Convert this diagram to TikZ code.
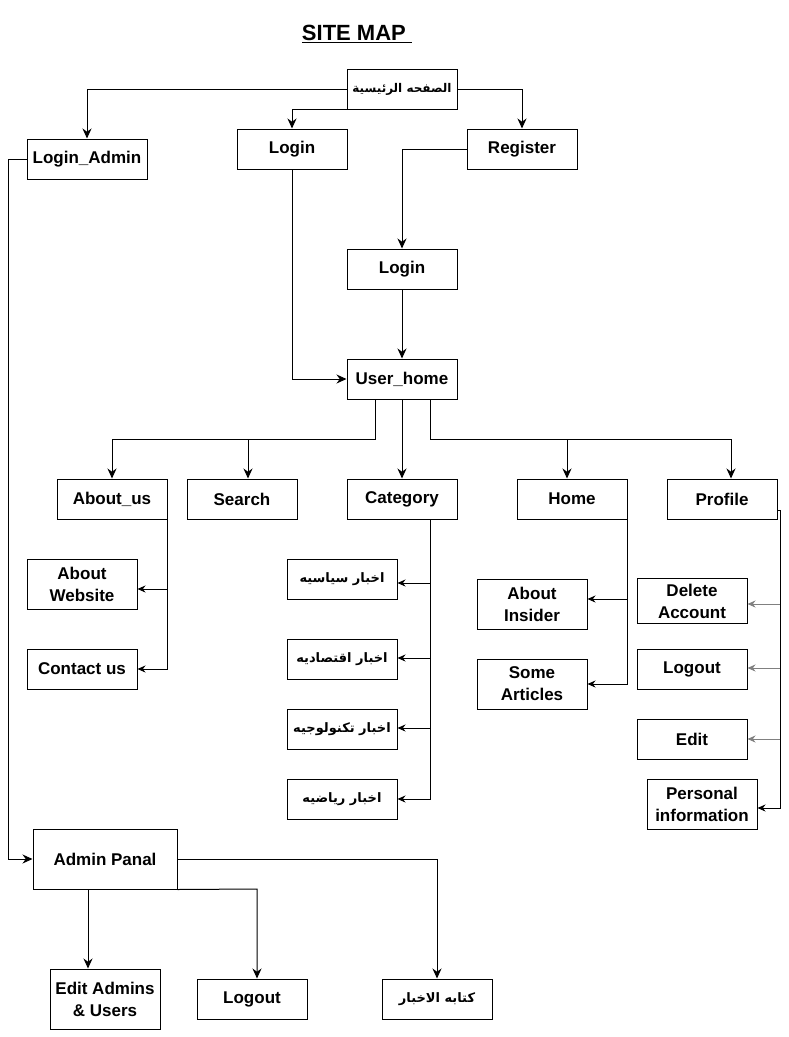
\documentclass[tikz,border=0pt]{standalone}
\usepackage{fontspec}
\setmainfont{Liberation Sans}
\newfontfamily\arabicfont[Script=Arabic]{DejaVu Sans}
\TeXXeTstate=1
\usetikzlibrary{arrows.meta}
\tikzset{
  bx/.style={draw, line width=1pt, minimum width=110, minimum height=40,
    inner sep=1pt, align=center, font=\fontsize{17}{22}\selectfont\bfseries},
  ar/.style={font=\fontsize{13}{16}\selectfont\arabicfont\bfseries},
  ln/.style={line width=1pt},
  arr/.style={ln, -{Stealth[length=10pt,width=9pt]}},
  sarr/.style={ln, -{Stealth[length=8pt,width=7pt]}}
}
\begin{document}
\begin{tikzpicture}[x=1pt,y=-1pt]
\useasboundingbox (0,0) rectangle (789,1037);
\node (tt) at (357,34) {\fontsize{22}{26}\selectfont\bfseries\underline{SITE MAP~}};

\node[bx] (hm) at (402,89) {\arabicfont\fontsize{12}{16}\selectfont\beginR الصفحه الرئيسية\endR};
\node[bx, minimum width=120] (la) at (87,159) {Login\_Admin};
\node[bx] (li) at (292,149) {Login};
\node[bx] (rg) at (522,149) {Register};
\node[bx] (lo) at (402,269) {Login};
\node[bx] (uh) at (402,379) {User\_home};

\node[bx] (ab) at (112,499) {About\_us};
\node[bx] (se) at (242,499) {Search};
\node[bx] (ca) at (402,499) {Category};
\node[bx] (ho) at (572,499) {Home};
\node[bx] (pr) at (722,499) {Profile};

\node[bx, minimum height=50] (aw) at (82,584) {About\\Website};
\node[bx] (cu) at (82,669) {Contact us};

\node[bx, ar] (c1) at (342,579) {\beginR اخبار سياسيه\endR};
\node[bx, ar] (c2) at (342,659) {\beginR اخبار اقتصاديه\endR};
\node[bx, ar] (c3) at (342,729) {\beginR اخبار تكنولوجيه\endR};
\node[bx, ar] (c4) at (342,799) {\beginR اخبار رياضيه\endR};

\node[bx, minimum height=50] (ai) at (532,604) {About\\Insider};
\node[bx, minimum height=50] (sa) at (532,684) {Some\\Articles};

\node[bx, minimum height=45] (da) at (692,601) {Delete\\Account};
\node[bx] (pl) at (692,669) {Logout};
\node[bx] (ed) at (692,739) {Edit};
\node[bx, minimum height=50] (pi) at (702,804) {Personal\\information};

\node[bx, minimum width=144, minimum height=60] (ap) at (105,859) {Admin Panal};
\node[bx, minimum height=60] (ea) at (105,999) {Edit Admins\\\& Users};
\node[bx] (al) at (252,999) {Logout};
\node[bx, ar] (kt) at (437,999) {\beginR كتابه الاخبار\endR};

\draw[arr] (hm.west) -| (la.north);
\draw[arr] (hm.south west) -| (li.north);
\draw[arr] (hm.east) -| (rg.north);
\draw[arr] (rg.west) -| (lo.north);
\draw[arr] (lo) -- (uh);
\draw[arr] (li.south) |- (uh.west);

\coordinate (ua) at (375,439);
\coordinate (ub) at (430,439);
\coordinate (us) at (248,439);
\coordinate (uo) at (567,439);
\coordinate (up) at (731,439);
\draw[arr] (uh.south -| ua) -- (ua) -| (ab.north);
\draw[arr] (us) -- (us |- se.north);
\draw[arr] (uh) -- (ca);
\draw[arr] (uh.south -| ub) -- (ub) -- (up) -- (up |- pr.north);
\draw[arr] (uo) -- (uo |- ho.north);

\coordinate (at) at (167,519);
\draw[sarr] (at) |- (cu.east);
\draw[sarr] (at |- 0,589) -- (aw.east |- 0,589);

\coordinate (ct) at (430,519);
\draw[sarr] (ct) |- (c4.east);
\foreach \n/\y in {c1/583,c2/658,c3/728}
  \draw[sarr] (ct |- 0,\y) -- (\n.east |- 0,\y);

\draw[sarr] (ho.south east) |- (sa.east);
\draw[sarr] (ho.south east |- 0,599) -- (ai.east |- 0,599);

\coordinate (pt) at (780,510);
\draw[sarr] (pr.east |- pt) -- (pt) |- (pi.east |- 0,808);
\foreach \n/\y in {da/604,pl/668,ed/739}
  \draw[sarr, gray] (pt |- 0,\y) -- (\n.east |- 0,\y);

\coordinate (lw) at (8,159);
\draw[arr] (la.west) -- (lw) |- (ap.west);
\coordinate (ae) at (88,889);
\coordinate (ag) at (257,889);
\draw[arr] (ae) -- (ae |- ea.north);
\draw[arr] (ap.south east) -- (ag) -- (ag |- al.north);
\draw[arr] (ap.east) -| (kt.north);
\end{tikzpicture}
\end{document}
